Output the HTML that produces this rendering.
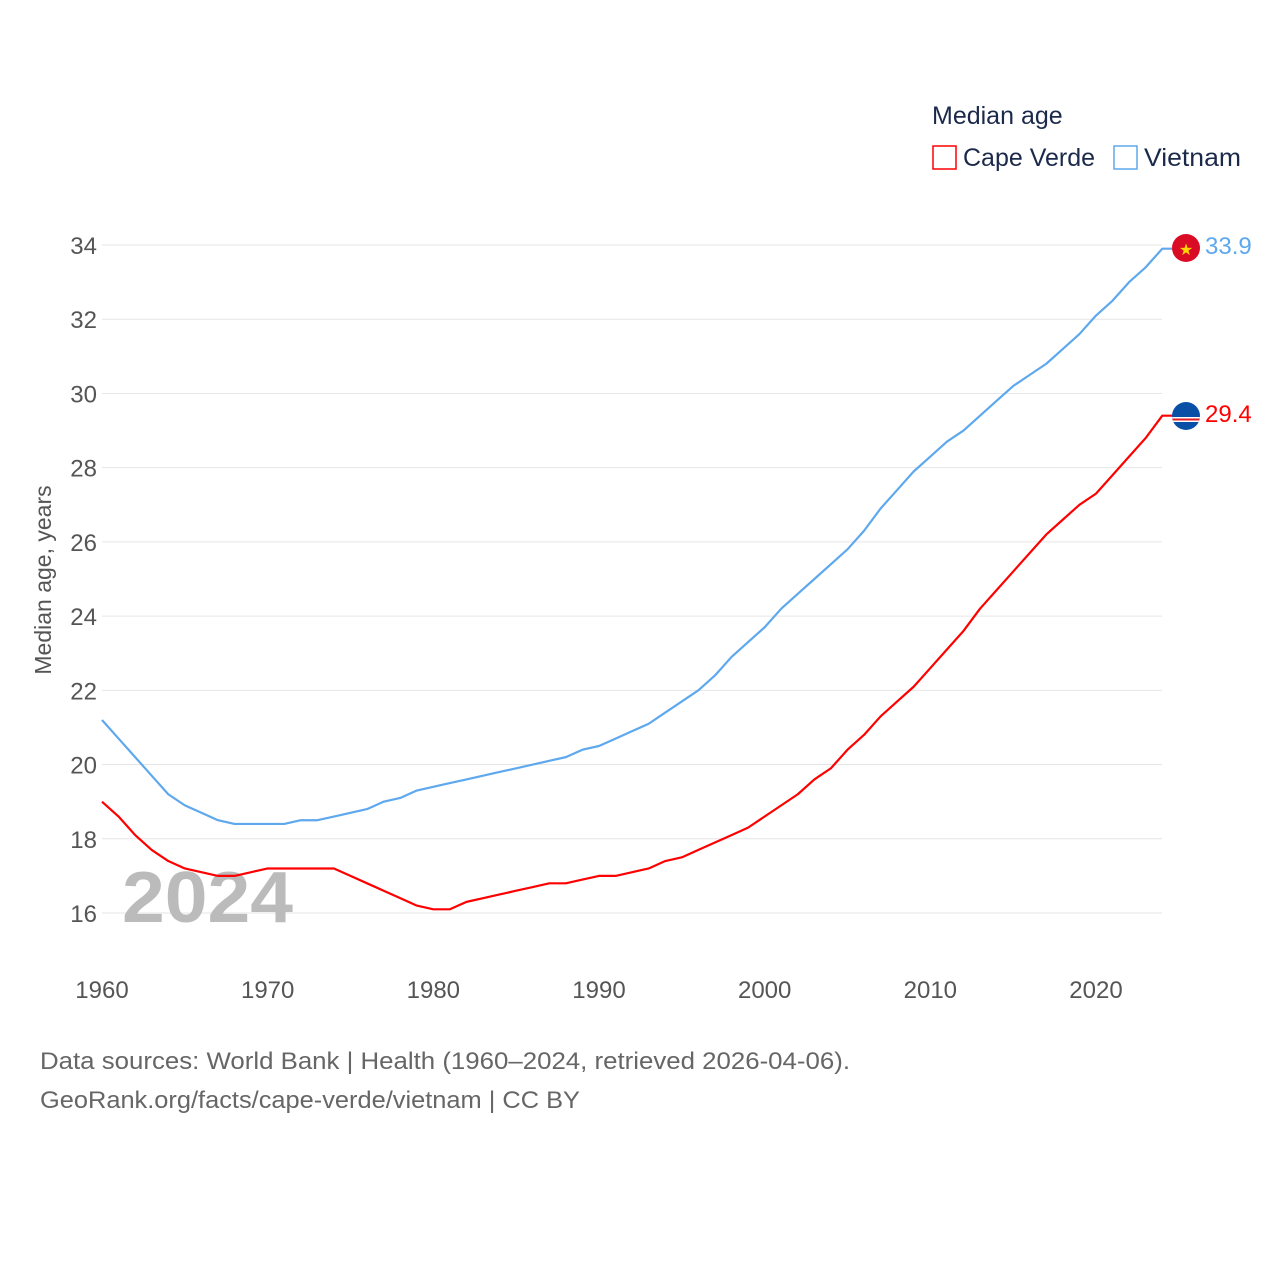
<!DOCTYPE html>
<html><head><meta charset="utf-8"><style>
body{margin:0;background:#fff;font-family:"Liberation Sans",sans-serif;}
svg text{font-family:"Liberation Sans",sans-serif;}
</style></head><body>
<svg id="chart" width="1280" height="1280" xmlns="http://www.w3.org/2000/svg">
<text x="932" y="124" font-size="25" fill="#1b2a4a">Median age</text>
<g>
<rect x="933" y="146" width="23" height="23" fill="none" stroke="#f00" stroke-width="1.5"/>
<text x="963" y="166" font-size="25" fill="#1b2a4a">Cape Verde</text></g>
<g>
<rect x="1114" y="146" width="23" height="23" fill="none" stroke="#5ea8ee" stroke-width="1.5"/>
<text x="1144" y="166" font-size="25" fill="#1b2a4a" textLength="97" lengthAdjust="spacingAndGlyphs">Vietnam</text></g>
<g id="grid"></g><g id="yt"></g><g id="xt"></g>
<text transform="translate(51,580) rotate(-90)" text-anchor="middle" font-size="23" fill="#555">Median age, years</text>
<text x="122" y="922" font-size="72" font-weight="bold" fill="#bbb" textLength="171" lengthAdjust="spacingAndGlyphs">2024</text>
<g id="lines"></g>
<g><circle cx="1186" cy="248" r="14" fill="#da0b25"/><text x="1186" y="255" text-anchor="middle" font-size="16" fill="#ffd500">★</text></g>
<g><clipPath id="cvc"><circle cx="1186" cy="416" r="14"/></clipPath><g clip-path="url(#cvc)"><rect x="1172" y="402" width="28" height="28" fill="#0a4fa6"/><rect x="1172" y="417" width="28" height="5" fill="#fff"/><rect x="1172" y="418.5" width="28" height="2" fill="#e31b23"/></g></g>
<text x="1205" y="254" font-size="24" fill="#5ea8ee">33.9</text>
<text x="1205" y="422" font-size="24" fill="#f00">29.4</text>
<text x="40" y="1069" font-size="24" fill="#666" textLength="810" lengthAdjust="spacingAndGlyphs">Data sources: World Bank | Health (1960–2024, retrieved 2026-04-06).</text>
<text x="40" y="1108" font-size="24" fill="#666" textLength="540" lengthAdjust="spacingAndGlyphs">GeoRank.org/facts/cape-verde/vietnam | CC BY</text>
</svg>
<script>
const years=[];for(let y=1960;y<=2024;y++)years.push(y);
const vietnam=[21.2,20.7,20.2,19.7,19.2,18.9,18.7,18.5,18.4,18.4,18.4,18.4,18.5,18.5,18.6,18.7,18.8,19.0,19.1,19.3,19.4,19.5,19.6,19.7,19.8,19.9,20.0,20.1,20.2,20.4,20.5,20.7,20.9,21.1,21.4,21.7,22.0,22.4,22.9,23.3,23.7,24.2,24.6,25.0,25.4,25.8,26.3,26.9,27.4,27.9,28.3,28.7,29.0,29.4,29.8,30.2,30.5,30.8,31.2,31.6,32.1,32.5,33.0,33.4,33.9];
const capeVerde=[19.0,18.6,18.1,17.7,17.4,17.2,17.1,17.0,17.0,17.1,17.2,17.2,17.2,17.2,17.2,17.0,16.8,16.6,16.4,16.2,16.1,16.1,16.3,16.4,16.5,16.6,16.7,16.8,16.8,16.9,17.0,17.0,17.1,17.2,17.4,17.5,17.7,17.9,18.1,18.3,18.6,18.9,19.2,19.6,19.9,20.4,20.8,21.3,21.7,22.1,22.6,23.1,23.6,24.2,24.7,25.2,25.7,26.2,26.6,27.0,27.3,27.8,28.3,28.8,29.4];
const yTicks=[16,18,20,22,24,26,28,30,32,34];
const xTicks=[1960,1970,1980,1990,2000,2010,2020];
const X=y=>102+(y-1960)*(1096-102)/60;
const Y=v=>913-(v-16)*(913-245)/18;
const NS="http://www.w3.org/2000/svg";
function mk(t,a,p){const e=document.createElementNS(NS,t);for(const k in a)e.setAttribute(k,a[k]);p.appendChild(e);return e;}
const g=document.getElementById('grid'),yt=document.getElementById('yt'),xt=document.getElementById('xt'),L=document.getElementById('lines');
yTicks.forEach(v=>{const l=mk('line',{x1:102,x2:1162,y1:Y(v),y2:Y(v),stroke:'#e6e6e6','stroke-width':1},g);


const t=mk('text',{x:97,y:Y(v)+9,'text-anchor':'end','font-size':24,fill:'#555'},yt);t.textContent=v;

});
xTicks.forEach(v=>{const t=mk('text',{x:X(v),y:998,'text-anchor':'middle','font-size':24,fill:'#555'},xt);t.textContent=v;

});
function line(data,color,name){const pts=data.map((v,i)=>X(years[i])+','+Y(v));
const last=data[data.length-1];pts.push((X(2024)+12)+','+Y(last));
const p=mk('polyline',{points:pts.join(' '),fill:'none',stroke:color,'stroke-width':2.2,'stroke-linejoin':'round'},L);

}
line(vietnam,'#5ea8ee','vietnam-line');
line(capeVerde,'#f00','cape-verde-line');
</script>
</body></html>
